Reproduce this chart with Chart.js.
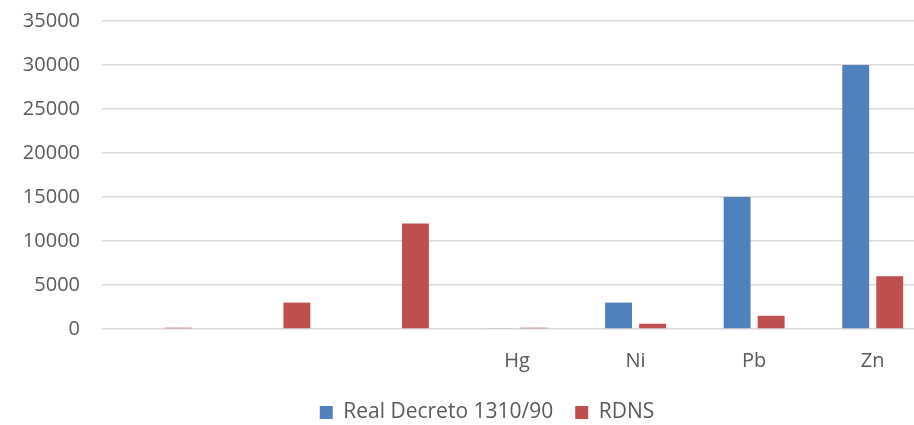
<!DOCTYPE html>
<html>
<head>
<meta charset="utf-8">
<script src="https://cdn.jsdelivr.net/npm/chart.js@4"></script>
<style>
  html, body { margin: 0; padding: 0; background: #fff; overflow: hidden; }
  #wrap { width: 932px; height: 425px; }
</style>
</head>
<body>
<div id="wrap"><canvas id="metalsChart" width="932" height="425"></canvas></div>
<script>
// categories (first three have no label in the original)
const categories = ['', '', '', 'Hg', 'Ni', 'Pb', 'Zn'];
const realDecreto = [0, 0, 0, 100, 3000, 15000, 30000];
const rdns = [150, 3000, 12000, 150, 600, 1500, 6000];
const yTicks = [0, 5000, 10000, 15000, 20000, 25000, 30000, 35000];

const textColor = '#595959';
const fontFamily = '"Open Sans", "Liberation Sans", sans-serif';

// keep the legend box short (wide item spacing), and move it right/up like the original
const legendShift = {
    id: 'legendShift',
    beforeLayout(chart) {
        const legend = chart.legend;
        if (legend && !legend._patched) {
            const fit = legend.fit;
            legend.fit = function () {
                fit.call(this);
                this.height = 36;
            };
            legend._patched = true;
        }
    },
    afterLayout(chart) {
        chart.legend.left += 21;
        chart.legend.right += 21;
        chart.legend.top -= 9;
        chart.legend.bottom = chart.height;
    }
};

const ctx = document.getElementById('metalsChart').getContext('2d');
new Chart(ctx, {
    type: 'bar',
    data: {
        labels: categories,
        datasets: [{
            label: 'Real Decreto 1310/90',
            data: realDecreto,
            backgroundColor: '#4f81bd',
            barPercentage: 0.79,
            categoryPercentage: 0.574
        }, {
            label: 'RDNS',
            data: rdns,
            backgroundColor: '#c0504d',
            barPercentage: 0.79,
            categoryPercentage: 0.574
        }]
    },
    options: {
        responsive: false,
        animation: false,
        layout: { padding: { top: 21, left: 0, right: 0, bottom: 0 } },
        scales: {
            x: {
                afterFit(scale) { scale.height = 60; },
                grid: { display: false },
                border: { display: false },
                ticks: { color: textColor, font: { family: fontFamily, size: 20 }, padding: 12 }
            },
            y: {
                min: 0,
                max: 35000,
                afterBuildTicks(scale) {
                    scale.ticks = yTicks.map(v => ({ value: v }));
                },
                afterFit(scale) {
                    scale.width = 102;
                    scale.paddingTop = 0;
                    scale.paddingBottom = 0;
                },
                grid: { color: '#d9d9d9', lineWidth: 1.5, drawTicks: false },
                border: { display: false },
                ticks: {
                    color: textColor,
                    font: { family: fontFamily, size: 20 },
                    padding: 22,
                    callback: v => String(v)
                }
            }
        },
        plugins: {
            legend: {
                position: 'bottom',
                labels: {
                    color: textColor,
                    font: { family: fontFamily, size: 21 },
                    boxWidth: 13,
                    boxHeight: 13,
                    padding: 22
                }
            },
            tooltip: { enabled: false }
        }
    },
    plugins: [legendShift]
});
</script>
</body>
</html>
